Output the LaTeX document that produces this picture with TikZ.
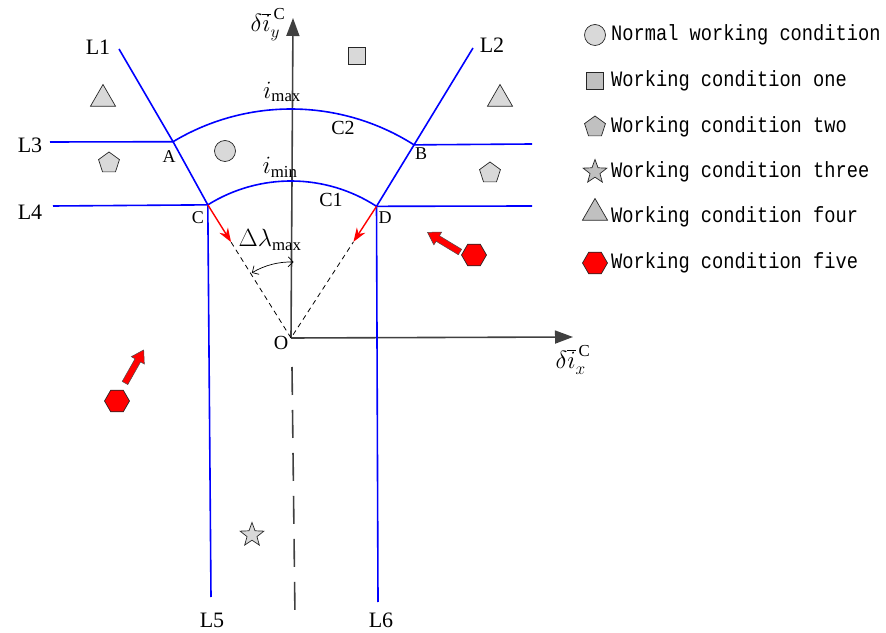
\documentclass[tikz,border=0pt]{standalone}
\usepackage{fontspec}
\setmainfont{Liberation Serif}
\newfontfamily\legfont[FakeStretch=0.85]{Liberation Mono}
\usetikzlibrary{shapes.geometric,arrows.meta,calc}

\definecolor{grigioasse}{RGB}{64,64,64}
\definecolor{grigiochiaro}{RGB}{217,217,217}
\definecolor{grigioleg}{RGB}{192,192,192}

\tikzset{
  confine/.style={blue, line width=1.6pt},
  asse/.style={draw=grigioasse, line width=1.6pt, -{Triangle[length=18pt,width=13pt]}},
  marc/.style={draw=black!85, line width=0.7pt, fill=grigiochiaro, inner sep=0pt},
  cerchio/.style={marc, circle, minimum size=21pt},
  quadrato/.style={marc, rectangle, minimum size=17pt},
  pentagono/.style={marc, regular polygon, regular polygon sides=5, minimum size=22pt},
  triangolo/.style={marc, regular polygon, regular polygon sides=3, minimum size=29pt},
  stella/.style={marc, star, star points=5, star point ratio=2.4, minimum size=25pt},
  esagono/.style={marc, fill=red, regular polygon, regular polygon sides=6, minimum size=25pt},
  etL/.style={font=\fontsize{22}{22}\selectfont},
  etC/.style={font=\fontsize{20}{20}\selectfont},
  etP/.style={font=\fontsize{18}{18}\selectfont},
  etM/.style={font=\fontsize{24}{24}\selectfont},
  leg/.style={anchor=west, inner sep=0pt, font=\legfont\fontsize{22}{22}\selectfont},
}

\begin{document}
\begin{tikzpicture}[x=1pt,y=1pt]
\useasboundingbox (0,0) rectangle (886,632);

% punti notevoli
\coordinate (O) at (291,294);
\coordinate (A) at ($(O)+(121:229)$);
\coordinate (B) at ($(O)+(57.5:229)$);
\coordinate (C) at ($(O)+(122:157)$);
\coordinate (D) at ($(O)+(57:157)$);
\coordinate (l1) at (119,583);
\coordinate (l2) at (473,584);
\coordinate (l3) at (50,490);
\coordinate (l4) at (53,426);
\coordinate (l5) at (211,35);
\coordinate (l6) at (378,30);
\coordinate (rB) at (532,488);
\coordinate (rD) at (532,426);
\coordinate (ytop) at (293,614);
\coordinate (xtop) at (573,295);
\coordinate (dsup) at (292,265);
\coordinate (dinf) at (295,14);

% assi
\draw[asse] (O) -- (ytop);
\draw[asse] (O) -- (xtop);
\draw[grigioasse, line width=1.6pt, dash pattern=on 28pt off 15pt] (dsup) -- (dinf);
\node[etM] (ly) at (268,607) {$\delta\overline{i}_{y}^{\,\mathrm{C}}$};
\node[etM] (lx) at (573,272) {$\delta\overline{i}_{x}^{\,\mathrm{C}}$};
\node[etC] (lO) at (281,289) {O};

% confini delle zone
\draw[confine] (l1) -- (A) -- (C) -- (l5);
\draw[confine] (l2) -- (B) -- (D) -- (l6);
\draw[confine] (l3) -- (A);
\draw[confine] (l4) -- (C);
\draw[confine] (B) -- (rB);
\draw[confine] (D) -- (rD);
\draw[confine] (A) arc[start angle=121, end angle=57.5, radius=229];
\draw[confine] (C) arc[start angle=122, end angle=57, radius=157];

% angolo massimo
\coordinate (pC) at ($(C)!0.28!(O)$);
\coordinate (pD) at ($(D)!0.27!(O)$);
\draw[red, line width=1.4pt, -{Stealth[length=14pt,width=10pt]}] (C) -- (pC);
\draw[red, line width=1.4pt, -{Stealth[length=14pt,width=10pt]}] (D) -- (pD);
\draw[line width=0.8pt, dash pattern=on 5pt off 4pt] (pC) -- (O) -- (pD);
\draw[line width=0.7pt, {Straight Barb[length=5pt]}-{Straight Barb[length=5pt]}]
  ($(O)+(121:76)$) arc[start angle=121, end angle=88, radius=76];
\node[etM] (ldl) at (270,392) {$\Delta\lambda_{\max}$};

% etichette
\node[etL] (nL1) at (98,585) {L1};
\node[etL] (nL2) at (492,587) {L2};
\node[etL] (nL3) at (30,487) {L3};
\node[etL] (nL4) at (30,420) {L4};
\node[etL] (nL5) at (212,12) {L5};
\node[etL] (nL6) at (381,12) {L6};
\node[etP] (nA) at (169,475) {A};
\node[etP] (nB) at (421,478) {B};
\node[etP] (nC) at (198,414) {C};
\node[etP] (nD) at (385,414) {D};
\node[etC] (nC2) at (343,504) {C2};
\node[etC] (nC1) at (331,432) {C1};
\node[etM] (imax) at (282,540) {$i_{\max}$};
\node[etM] (imin) at (280,465) {$i_{\min}$};

% condizioni di lavoro
\node[quadrato] (q1) at (357,576) {};
\node[cerchio] (c1) at (225,481) {};
\node[triangolo] (t1) at (103,533) {};
\node[triangolo] (t2) at (500,533) {};
\node[pentagono] (p1) at (109,469) {};
\node[pentagono] (p2) at (490,459) {};
\node[stella] (s1) at (252,97) {};
\node[esagono] (h1) at (474,377) {};
\node[esagono] (h2) at (117,231) {};

% frecce di spostamento
\foreach \px/\py/\ang in {460/380/148.8, 125/249/60.5}{
  \begin{scope}[shift={(\px,\py)}, rotate=\ang]
    \draw[draw=black!70, fill=red, line width=0.5pt]
      (0,-3.2) -- (26,-3.2) -- (26,-7.5) -- (38,0) -- (26,7.5) -- (26,3.2) -- (0,3.2) -- cycle;
  \end{scope}
}

% legenda
\node[cerchio] (g1) at (595,597) {};
\node[quadrato, fill=grigioleg] (g2) at (595,551) {};
\node[pentagono, fill=grigioleg] (g3) at (595,505) {};
\node[stella, fill=grigioleg] (g4) at (595,460) {};
\node[triangolo, fill=grigioleg] (g5) at (595,419) {};
\node[esagono] (g6) at (595,369) {};
\node[leg] (tg1) at (611,597) {Normal working condition};
\node[leg] (tg2) at (611,551) {Working condition one};
\node[leg] (tg3) at (611,505) {Working condition two};
\node[leg] (tg4) at (611,460) {Working condition three};
\node[leg] (tg5) at (611,415) {Working condition four};
\node[leg] (tg6) at (611,369) {Working condition five};

\end{tikzpicture}
\end{document}
